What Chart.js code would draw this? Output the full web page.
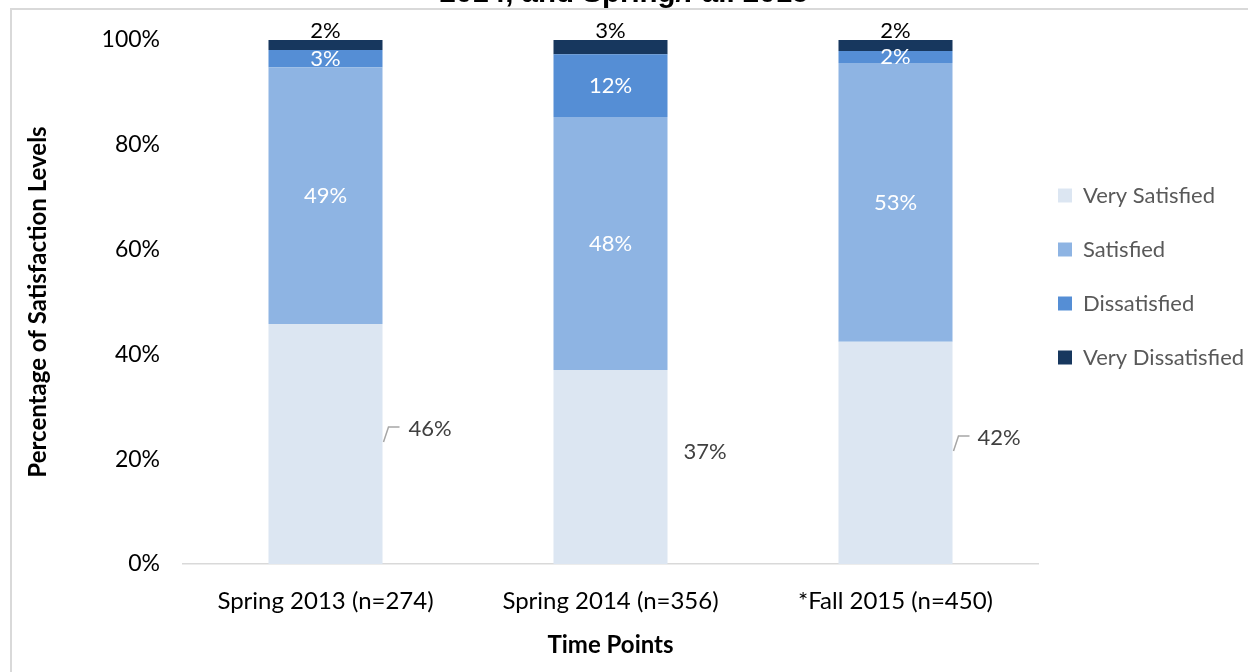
<!DOCTYPE html>
<html lang="en">
<head>
  <meta charset="UTF-8">
  <title>Satisfaction Levels</title>
  <script src="https://cdn.jsdelivr.net/npm/chart.js"></script>
  <style>
    body { margin: 0; background: #fff; overflow: hidden; }
    .frame { position: absolute; left: 10px; top: 8px; width: 1300px; height: 700px; border: 2px solid #d9d9d9; }
    .wrap { position: absolute; left: 0; top: -107px; width: 1248px; height: 779px; }
  </style>
</head>
<body>
  <div class="frame"></div>
  <div class="wrap"><canvas id="chart" width="1248" height="779"></canvas></div>

  <script>
    const categories = ['Spring 2013 (n=274)', 'Spring 2014 (n=356)', '*Fall 2015 (n=450)'];
    const verySatisfied = [45.8, 37.0, 42.4];
    const satisfied = [49.0, 48.3, 53.2];
    const dissatisfied = [3.3, 12.0, 2.3];
    const veryDissatisfied = [1.9, 2.7, 2.1];
    const seriesNames = ['Very Satisfied', 'Satisfied', 'Dissatisfied', 'Very Dissatisfied'];
    const yTicks = [0, 20, 40, 60, 80, 100];

    const colors = ['#dce6f2', '#8eb4e3', '#558ed5', '#17375e'];

    // where the "very satisfied" labels were dragged to, and which have a leader line
    const outsideDx = [26, 16, 25];
    const leader = [true, false, true];

    const segmentLabels = {
      id: 'segmentLabels',
      afterDatasetsDraw(chart) {
        const ctx = chart.ctx;
        ctx.save();
        ctx.font = '22px Lato';
        ctx.textBaseline = 'middle';
        chart.data.datasets.forEach((ds, di) => {
          chart.getDatasetMeta(di).data.forEach((bar, i) => {
            const txt = Math.round(ds.data[i]) + '%';
            const right = bar.x + bar.width / 2;
            const mid = (bar.y + bar.base) / 2;
            if (di === 0) {
              const y = mid - 15;
              if (leader[i]) {
                ctx.strokeStyle = '#a6a6a6';
                ctx.lineWidth = 1.5;
                ctx.beginPath();
                ctx.moveTo(right + 1, y + 13);
                ctx.lineTo(right + 6, y - 2);
                ctx.lineTo(right + 17, y - 2);
                ctx.stroke();
              }
              ctx.fillStyle = '#404040';
              ctx.textAlign = 'left';
              ctx.fillText(txt, right + outsideDx[i], y);
            } else if (di === 3) {
              ctx.fillStyle = '#000';
              ctx.textAlign = 'center';
              ctx.fillText(txt, bar.x, bar.y - 9);
            } else {
              ctx.fillStyle = '#fff';
              ctx.textAlign = 'center';
              ctx.fillText(txt, bar.x, mid);
            }
          });
        });
        ctx.restore();
      }
    };

    const series = [verySatisfied, satisfied, dissatisfied, veryDissatisfied];

    new Chart(document.getElementById('chart'), {
      type: 'bar',
      data: {
        labels: categories,
        datasets: series.map((d, i) => ({
          label: seriesNames[i],
          data: d,
          backgroundColor: colors[i],
          borderWidth: 0,
          categoryPercentage: 1,
          barPercentage: 0.4
        }))
      },
      options: {
        responsive: false,
        animation: false,
        events: [],
        layout: { padding: 0 },
        scales: {
          x: {
            stacked: true,
            grid: { display: false, drawTicks: false },
            border: { display: true, color: '#d9d9d9', width: 1.5 },
            ticks: { color: '#000', font: { family: 'Lato', size: 24 }, padding: 23 },
            title: {
              display: true, text: 'Time Points', color: '#000',
              font: { family: 'Lato', size: 24, weight: 'bold' },
              padding: { top: 0, bottom: 12 }
            },
            afterFit: s => { s.height = 108; }
          },
          y: {
            stacked: true,
            min: 0, max: 100,
            grid: { display: false, drawTicks: false },
            border: { display: false },
            afterBuildTicks: s => { s.ticks = yTicks.map(v => ({ value: v })); },
            ticks: { color: '#000', font: { family: 'Lato', size: 23 }, padding: 23, callback: v => v + '%' },
            title: {
              display: true, text: 'Percentage of Satisfaction Levels', color: '#000',
              font: { family: 'Lato', size: 24, weight: 'bold' },
              padding: { top: 23.6, bottom: 0 }
            },
            afterFit: s => { s.width = 183; }
          }
        },
        plugins: {
          title: {
            display: true,
            text: '2014, and Spring/Fall 2015',
            color: '#000',
            font: { family: 'Liberation Sans', size: 29.5, weight: 'bold' },
            padding: { top: 83, bottom: 28.6 }
          },
          legend: {
            position: 'right',
            maxWidth: 210,
            labels: {
              color: '#595959',
              font: { family: 'Lato', size: 22, lineHeight: 34 / 22 },
              boxWidth: 14,
              boxHeight: 14,
              padding: 20,
              generateLabels: chart => Chart.defaults.plugins.legend.labels.generateLabels(chart)
                .map(l => Object.assign(l, { text: [l.text] }))
            }
          },
          tooltip: { enabled: false }
        }
      },
      plugins: [segmentLabels]
    });
  </script>
</body>
</html>
